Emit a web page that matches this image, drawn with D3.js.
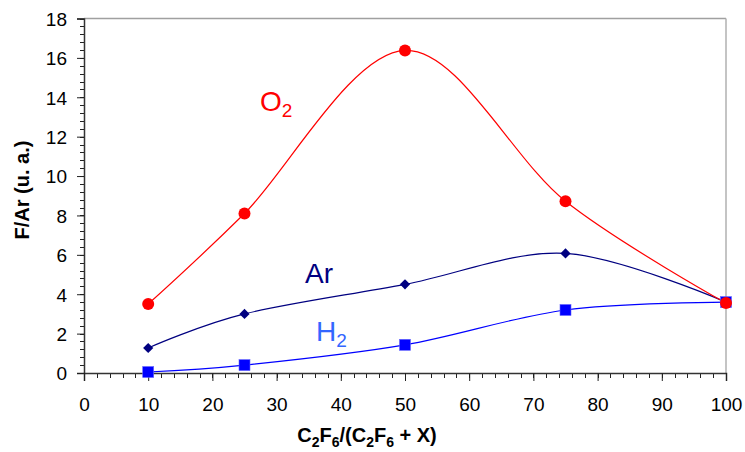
<!DOCTYPE html>
<html><head><meta charset="utf-8">
<script src="https://cdn.jsdelivr.net/npm/d3@7"></script>
<style>body{margin:0;background:#fff}svg{display:block}text{font-family:Arial,"Liberation Sans",sans-serif}</style>
</head><body><svg id="c" width="745" height="452"></svg>
<script>
const xValues = [10, 25, 50, 75, 100];
const o2Values = [3.5, 8.1, 16.38, 8.72, 3.55];
const arValues = [1.27, 3.0, 4.5, 6.07, 3.6];
const h2Values = [0.05, 0.4, 1.43, 3.2, 3.6];
const xTicks = [0,10,20,30,40,50,60,70,80,90,100];
const yTicks = [0,2,4,6,8,10,12,14,16,18];

const svg = d3.select("#c");
const x = d3.scaleLinear().domain([0,100]).range([84,726]);
const y = d3.scaleLinear().domain([0,18]).range([373,18.5]);

// plot border top/right
svg.append("line").attr("x1",84).attr("x2",726).attr("y1",y(18)).attr("y2",y(18)).attr("stroke","#a0a0a0").attr("stroke-width",1.3);
svg.append("line").attr("x1",726).attr("x2",726).attr("y1",y(18)).attr("y2",y(0)).attr("stroke","#b0b0b0").attr("stroke-width",1.5);

// minor ticks
const yMinor = d3.range(0,18.001,0.4);
svg.append("g").selectAll("line").data(yMinor).join("line")
  .attr("x1",80).attr("x2",84).attr("y1",d=>Math.round(y(d))+0.5).attr("y2",d=>Math.round(y(d))+0.5).attr("stroke","#222");
const xMinor = d3.range(0,100.001,2);
svg.append("g").selectAll("line").data(xMinor).join("line")
  .attr("x1",d=>Math.round(x(d))+0.5).attr("x2",d=>Math.round(x(d))+0.5).attr("y1",373).attr("y2",378).attr("stroke","#222");

// axes
const yAxis = d3.axisLeft(y).tickValues(yTicks).tickSize(7).tickPadding(10).tickFormat(d3.format("d"));
const gy = svg.append("g").attr("transform","translate(84,0)").call(yAxis);
const xAxis = d3.axisBottom(x).tickValues(xTicks).tickSize(8).tickPadding(17).tickFormat(d3.format("d"));
const gx = svg.append("g").attr("transform","translate(0,373)").call(xAxis);
[gy,gx].forEach(g=>{
  g.select(".domain").attr("stroke","#333").attr("stroke-width",1.5);
  g.selectAll(".tick line").attr("stroke","#222");
  g.selectAll(".tick text").attr("font-size",19).attr("fill","#000").attr("font-family","Arial, 'Liberation Sans', sans-serif");
});
gy.selectAll(".tick text").attr("dy","0.36em");

// series
const curve = d3.curveCardinal.tension(0);
function series(vals, color){
  const pts = xValues.map((xv,i)=>[xv, vals[i]]);
  svg.append("path").datum(pts).attr("fill","none").attr("stroke",color).attr("stroke-width",1.2)
    .attr("d", d3.line().x(d=>x(d[0])).y(d=>y(d[1])).curve(curve));
  return pts;
}
const arPts = series(arValues, "#000080");
const h2Pts = series(h2Values, "#0000ff");
const o2Pts = series(o2Values, "#ff0000");

svg.append("g").selectAll("path").data(arPts).join("path")
  .attr("d", d3.symbol(d3.symbolSquare, 52))
  .attr("transform", d=>`translate(${x(d[0])},${y(d[1])}) rotate(45)`).attr("fill","#000080");
svg.append("g").selectAll("rect").data(h2Pts).join("rect")
  .attr("x",d=>x(d[0])-5.5).attr("y",d=>y(d[1])-5.5).attr("width",11).attr("height",11)
  .attr("fill","#0000ff").attr("stroke","#6666ff").attr("stroke-width",0.6);
svg.append("g").selectAll("circle").data(o2Pts).join("circle")
  .attr("cx",d=>x(d[0])).attr("cy",d=>y(d[1])).attr("r",6).attr("fill","#ff0000");

// series labels
function label(xp, yp, main, sub, color){
  const t = svg.append("text").attr("x",xp).attr("y",yp).attr("fill",color).attr("font-size",28);
  t.append("tspan").text(main);
  if(sub){ t.append("tspan").attr("font-size",19).attr("dy",6).text(sub); }
}
label(260, 111, "O", "2", "#ff0000");
label(305, 283, "Ar", null, "#000080");
label(316, 341, "H", "2", "#3366ff");

// axis titles
svg.append("text").attr("transform","translate(29,190) rotate(-90)").attr("text-anchor","middle")
  .attr("font-size",20).attr("font-weight","bold").text("F/Ar (u. a.)");
const xl = svg.append("text").attr("x",367).attr("y",442).attr("text-anchor","middle").attr("font-size",20).attr("font-weight","bold");
const parts = [["C",0],["2",1],["F",0],["6",1],["/(C",0],["2",1],["F",0],["6",1],[" + X)",0]];
let prevSub = false;
parts.forEach(([s,sub])=>{
  const ts = xl.append("tspan").text(s);
  if(sub){ ts.attr("font-size",14).attr("dy", prevSub?0:5); }
  else { ts.attr("dy", prevSub?-5:0); }
  prevSub = !!sub;
});
</script></body></html>
